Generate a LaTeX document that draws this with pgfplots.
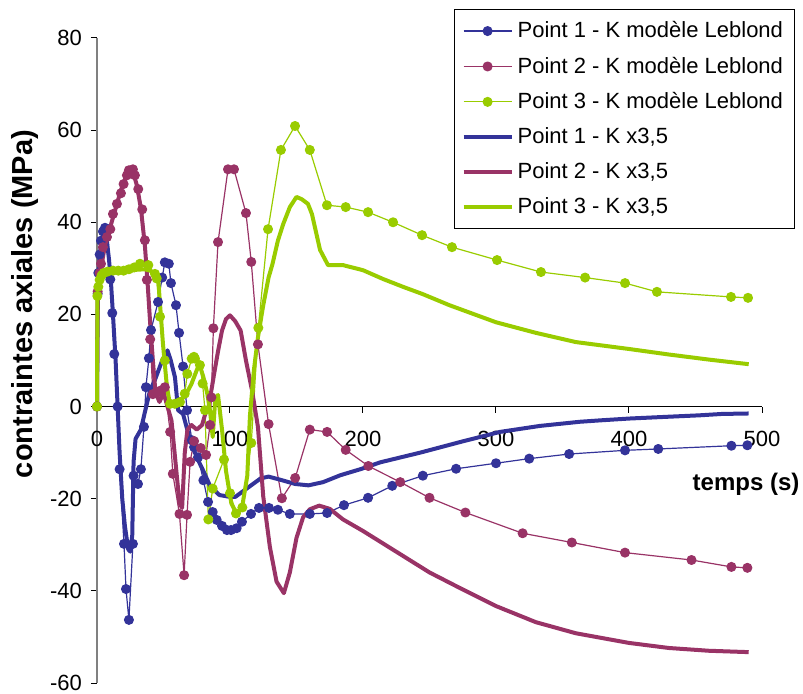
\documentclass[border=0pt]{standalone}
\usepackage{pgfplots}
\pgfplotsset{compat=1.18}
\usepackage{fontspec}
\setmainfont{Liberation Sans}
\definecolor{c1}{RGB}{51,51,153}
\definecolor{c2}{RGB}{153,51,102}
\definecolor{c3}{RGB}{153,204,0}
\begin{document}
\begin{tikzpicture}
\useasboundingbox (-48.5pt,-5pt) rectangle (353pt,341.5pt);
\begin{axis}[
  scale only axis, width=332.5pt, height=322.5pt,
  xmin=0, xmax=500, ymin=-60, ymax=80,
  axis x line=middle, axis y line=left,
  axis line style={-},
  x axis line style={black, line width=0.6pt},
  y axis line style={gray, line width=1pt},
  hide obscured x ticks=false, hide obscured y ticks=false,
  xtick={0,100,...,500}, ytick={-60,-40,...,80},
  tick align=outside, major tick length=3pt,
  tick style={black, line width=0.5pt},
  minor tick num=0,
  tick label style={font=\fontsize{11}{13}\selectfont},
  /pgf/number format/assume math mode=true,
  xticklabel style={yshift=-5.5pt},
  yticklabel style={xshift=-1pt},
  clip=false,
  xlabel={temps (s)},
  xlabel style={font=\bfseries\fontsize{12}{14}\selectfont, at={(axis description cs:0.976,0.3085)}, anchor=center},
  ylabel={contraintes axiales (MPa)},
  ylabel style={font=\bfseries\fontsize{14.5}{16}\selectfont, at={(axis description cs:-0.108,0.5876)}, anchor=center},
  legend style={at={(axis description cs:0.537,1.045)}, anchor=north west, draw=black, line width=0.5pt,
    font=\fontsize{11}{13}\selectfont, row sep=4.1pt, inner xsep=3.5pt, inner ysep=4pt, cells={anchor=west}},
  legend image code/.code={\draw[mark repeat=2, mark phase=2, #1] plot coordinates {(0pt,0pt) (12pt,0pt) (24pt,0pt)};},
  every axis plot/.append style={line join=round},
]
% Point 1 - Leblond
\addplot[c1, line width=0.6pt, mark=*, mark size=2.2pt, mark options={solid, fill=c1}] coordinates {
(0,0) (0.5,24.5) (1,29) (2,33) (3,36) (4.5,38) (6,38.8) (8,38.5) (10,27.6) (11.5,20.3) (13,11.4) (15.5,0)
(17,-13.6) (20.3,-29.8) (21.8,-39.6) (24,-46.3) (27,-29.8) (27.5,-15) (30.8,-16.8) (33,-13.6) (35.3,-4.4)
(36.8,4.2) (39,10.5) (40.6,16.6) (45.9,22.7) (49,28) (51,31.3) (54,31) (55.6,26.8) (59.4,22) (61.7,16)
(64.7,8.7) (67.7,-0.8) (71.4,-7.3) (73,-8.8) (76,-11) (80,-16) (83.5,-20.7) (87,-22.9) (90,-24.6) (94,-25.9)
(97.7,-26.8) (100.8,-26.8) (105,-26.4) (109,-25) (115.8,-23.3) (121.8,-22) (129.3,-22) (136,-22.4) (145,-23.3)
(160,-23.3) (173,-23.1) (185.7,-21.4) (203.8,-19.8) (222,-17.2) (245,-15) (270,-13.5) (300,-12.3) (325,-11.3)
(355,-10.3) (397,-9.5) (422,-9.2) (477,-8.5) (489,-8.4)
};
\addlegendentry{Point 1 - K modèle Leblond}
% Point 2 - Leblond
\addplot[c2, line width=0.6pt, mark=*, mark size=2.2pt, mark options={solid, fill=c2}] coordinates {
(0,0) (0.5,25) (2,29) (3,31) (4.5,34.6) (7.5,36.8) (10,38.5) (12,41.8) (15,44) (18,46.3) (20,48.3) (22.5,50.2)
(24,51.3) (27,51.5) (28.5,50.2) (31,47.2) (34,42.8) (36,36.1) (37.5,27.5) (40,14.6) (42,2.7) (45,3) (48,3.5)
(51,4.2) (55,-5.5) (57,-14.6) (62,-23.3) (65.5,-36.6) (67.7,-23.5) (70,-12) (73,-7.5) (78,-9) (82,-10.5)
(85,-4) (86,2) (87.5,17) (91,35.7) (98.5,51.5) (103,51.5) (112,42) (116,31.4) (121,13.5) (129,-3.8) (139,-19.9)
(149,-15.5) (160,-5) (173,-5.5) (187,-9.4) (204,-12.9) (228,-16.4) (250,-19.8) (277,-23) (320,-27.5)
(357,-29.5) (397,-31.7) (447,-33.3) (477,-34.8) (489,-35)
};
\addlegendentry{Point 2 - K modèle Leblond}
% Point 3 - Leblond
\addplot[c3, line width=0.6pt, mark=*, mark size=2.2pt, mark options={solid, fill=c3}] coordinates {
(0,0) (0.3,24) (1,26) (2,27.5) (3.5,28.5) (5,29) (8,29.3) (12,29.5) (16,29.5) (20,29.5) (24,29.8) (28,30.2)
(32.3,31) (38.6,30.7) (43.6,28.8) (44.9,27.8) (47.4,19.5) (51,10) (55,0.6) (58.6,0.6) (62.4,1) (66,2.8)
(67.9,7.1) (71.2,10.4) (72.9,10.8) (73.7,10.4) (77.4,9) (79.4,5) (81.2,-0.8) (83.7,-24.5) (87,-17.8)
(95.5,-11.5) (100,-18.8) (104.5,-23.2) (109.3,-21.9) (116,-7.9) (121.3,17.1) (128.6,38.5) (138.3,55.7)
(148.9,60.9) (160,55.7) (172.9,43.7) (187,43.3) (203.8,42.2) (222.6,40) (244.4,37.2) (266.9,34.6)
(300.8,31.8) (333.8,29.2) (367,28) (397,26.8) (421,24.9) (476.7,23.8) (489.5,23.6)
};
\addlegendentry{Point 3 - K modèle Leblond}
% Point 1 - K x3,5
\addplot[c1, line width=2pt, no marks] coordinates {
(0,0) (0.5,20) (1,28) (2,33) (3.5,36) (5,37.5) (7,37) (9,32) (10.5,27) (12,20) (14,10) (15.5,0) (17,-10)
(19,-20) (21,-26) (23.5,-31) (25,-31.5) (26.5,-28) (27.5,-12) (29,-7) (33,-5) (36,-1.2) (40,3.6) (43.6,5.8)
(49,10) (53,12.2) (55.5,10) (58.6,6.4) (61,-0.8) (64.7,-1.6) (70,-7.3) (75,-11) (80,-14) (85,-17.2)
(92,-19.2) (100,-19.6) (104,-19.6) (113,-17.7) (123,-15.6) (129,-15.2) (138,-15.9) (149,-16.8) (159,-17.1)
(170,-16.4) (183,-14.9) (198,-13.6) (213,-12.1) (243,-10) (273,-7.7) (303,-5.5) (333,-4.2) (363,-3.3)
(378,-3) (400,-2.6) (430,-2.2) (453,-1.9) (470,-1.6) (490,-1.5)
};
\addlegendentry{Point 1 - K x3,5}
% Point 2 - K x3,5
\addplot[c2, line width=2pt, no marks] coordinates {
(0,0) (0.5,25) (3,30) (6,35) (10,39) (14,43) (18,47) (22,50) (25,51.5) (27,51) (30,48) (33,43) (36,35)
(38,27) (40,18) (42,10) (44,3) (47,1) (50,3) (53,0) (56,-3) (59,-12) (62,-21) (64,-22) (66,-10) (68,-5)
(71,-4) (75,-5) (79,-4) (82,-1) (84,0) (88,7) (91,12) (94,16.5) (97,19) (100,19.8) (104,18.5) (108,16.5)
(112,10) (116.5,3.6) (121,-4.4) (125,-19.5) (130,-30.5) (135,-38) (140.5,-40.5) (145,-36) (150,-28.5)
(155,-24) (160,-22.3) (167,-21.5) (175,-22.2) (185,-24.5) (200,-27) (225,-31.5) (250,-36) (275,-39.7)
(300,-43.3) (330,-46.8) (360,-49.2) (400,-51.3) (430,-52.4) (460,-53) (490,-53.3)
};
\addlegendentry{Point 2 - K x3,5}
% Point 3 - K x3,5
\addplot[c3, line width=2pt, no marks] coordinates {
(0,0) (0.3,23) (1,26) (2,27.5) (4,28.3) (7,28.8) (12,29.2) (18,29.3) (24,29.5) (30,29.7) (36,29.8) (40,29.5)
(44,28.5) (45.9,28.1) (49.6,13.6) (52.6,4.2) (55,0.3) (58,0.3) (62,1) (67,2.7) (71,4.9) (75,7.9) (77,9.2)
(80,6.4) (83,2.7) (85,-1) (87,-6.6) (89,2) (91,2.5) (94,-5) (97,-14) (101,-21) (105,-23.3) (109,-22)
(113,-15) (115,-2) (118,8) (121,15) (125,22) (129,28) (132,31) (136,36) (140,39.6) (145,43.3) (150,45.5)
(154,45) (158.6,44) (161.6,41.8) (167.7,34) (173.7,30.7) (185,30.7) (200,29.6) (215,27.7) (230,26)
(245,24.4) (265,22) (300,18.3) (330,16) (360,14) (400,12.5) (430,11.3) (460,10.2) (490,9.2)
};
\addlegendentry{Point 3 - K x3,5}
\end{axis}
\end{tikzpicture}
\end{document}
